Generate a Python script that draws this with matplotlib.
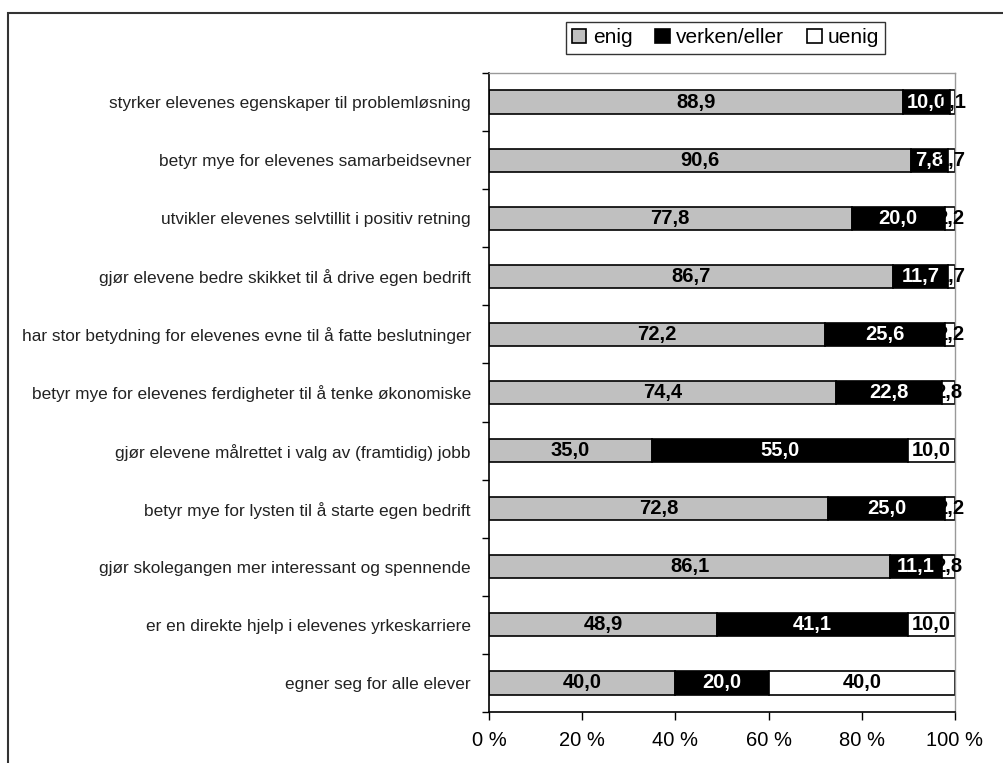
import matplotlib
matplotlib.use("Agg")
import matplotlib.pyplot as plt
import numpy as np
from matplotlib.patches import Rectangle

plt.rcParams["font.family"] = ["Liberation Sans", "DejaVu Sans"]

categories = [
    "styrker elevenes egenskaper til problemløsning",
    "betyr mye for elevenes samarbeidsevner",
    "utvikler elevenes selvtillit i positiv retning",
    "gjør elevene bedre skikket til å drive egen bedrift",
    "har stor betydning for elevenes evne til å fatte beslutninger",
    "betyr mye for elevenes ferdigheter til å tenke økonomiske",
    "gjør elevene målrettet i valg av (framtidig) jobb",
    "betyr mye for lysten til å starte egen bedrift",
    "gjør skolegangen mer interessant og spennende",
    "er en direkte hjelp i elevenes yrkeskarriere",
    "egner seg for alle elever",
]
enig = [88.9, 90.6, 77.8, 86.7, 72.2, 74.4, 35.0, 72.8, 86.1, 48.9, 40.0]
verken = [10.0, 7.8, 20.0, 11.7, 25.6, 22.8, 55.0, 25.0, 11.1, 41.1, 20.0]
uenig = [1.1, 1.7, 2.2, 1.7, 2.2, 2.8, 10.0, 2.2, 2.8, 10.0, 40.0]
series_names = ["enig", "verken/eller", "uenig"]
xtick_labels = ["0 %", "20 %", "40 %", "60 %", "80 %", "100 %"]

W, H = 1004, 763
fig = plt.figure(figsize=(W / 100, H / 100), dpi=100)

# plot area in pixels
left, right, top, bottom = 489, 955, 73, 712
ax = fig.add_axes([left / W, 1 - bottom / H, (right - left) / W, (bottom - top) / H])

y = np.arange(len(categories))
height = 0.4

seg_data = [enig, verken, uenig]
colors = ["#c0c0c0", "#000000", "#ffffff"]
txt_colors = ["black", "white", "black"]

starts = np.zeros(len(categories))
for vals, col, tcol, name in zip(seg_data, colors, txt_colors, series_names):
    vals = np.array(vals)
    ax.barh(y, vals, height, left=starts, color=col, edgecolor="black",
            linewidth=1.2, label=name, zorder=2)
    for yi, s, v in zip(y, starts, vals):
        ax.text(s + v / 2, yi, f"{v:.1f}".replace(".", ","), ha="center",
                va="center", color=tcol, fontsize=14.5, fontweight="bold",
                family=["Liberation Sans Narrow", "Liberation Sans"],
                zorder=3, clip_on=False)
    starts = starts + vals

ax.set_xlim(0, 100)
ax.set_ylim(len(categories) - 0.5, -0.5)
ax.set_xticks(np.arange(0, 101, 20))
ax.set_xticklabels(xtick_labels, fontsize=14.5)
ax.tick_params(axis="x", direction="out", length=6, width=1, pad=8, color="black")

ax.set_yticks(y)
ax.set_yticklabels(categories, fontsize=12.4, color="#222222")
ax.tick_params(axis="y", which="major", length=0, pad=13)
ax.set_yticks(np.arange(-0.5, len(categories) + 0.5, 1), minor=True)
ax.tick_params(axis="y", which="minor", direction="out", length=5, width=1)

for side in ["top", "right"]:
    ax.spines[side].set_color("#999999")
    ax.spines[side].set_linewidth(1)
for side in ["left", "bottom"]:
    ax.spines[side].set_color("black")
    ax.spines[side].set_linewidth(1.2)

leg = fig.legend(loc="upper center", bbox_to_anchor=(725.5 / W, 1 - 22 / H),
                 ncol=3, fontsize=15, frameon=True, fancybox=False,
                 handlelength=0.7, handleheight=0.7, handletextpad=0.3,
                 columnspacing=1.1, borderpad=0.3, borderaxespad=0)
leg.get_frame().set_edgecolor("black")
leg.get_frame().set_linewidth(1)

# outer chart border
fig.patches.append(Rectangle((8 / W, -0.1), 1.2, 1 - 13 / H + 0.1,
                             transform=fig.transFigure, fill=False,
                             edgecolor="#333333", linewidth=1.5))

fig.savefig("out.png", dpi=100)
